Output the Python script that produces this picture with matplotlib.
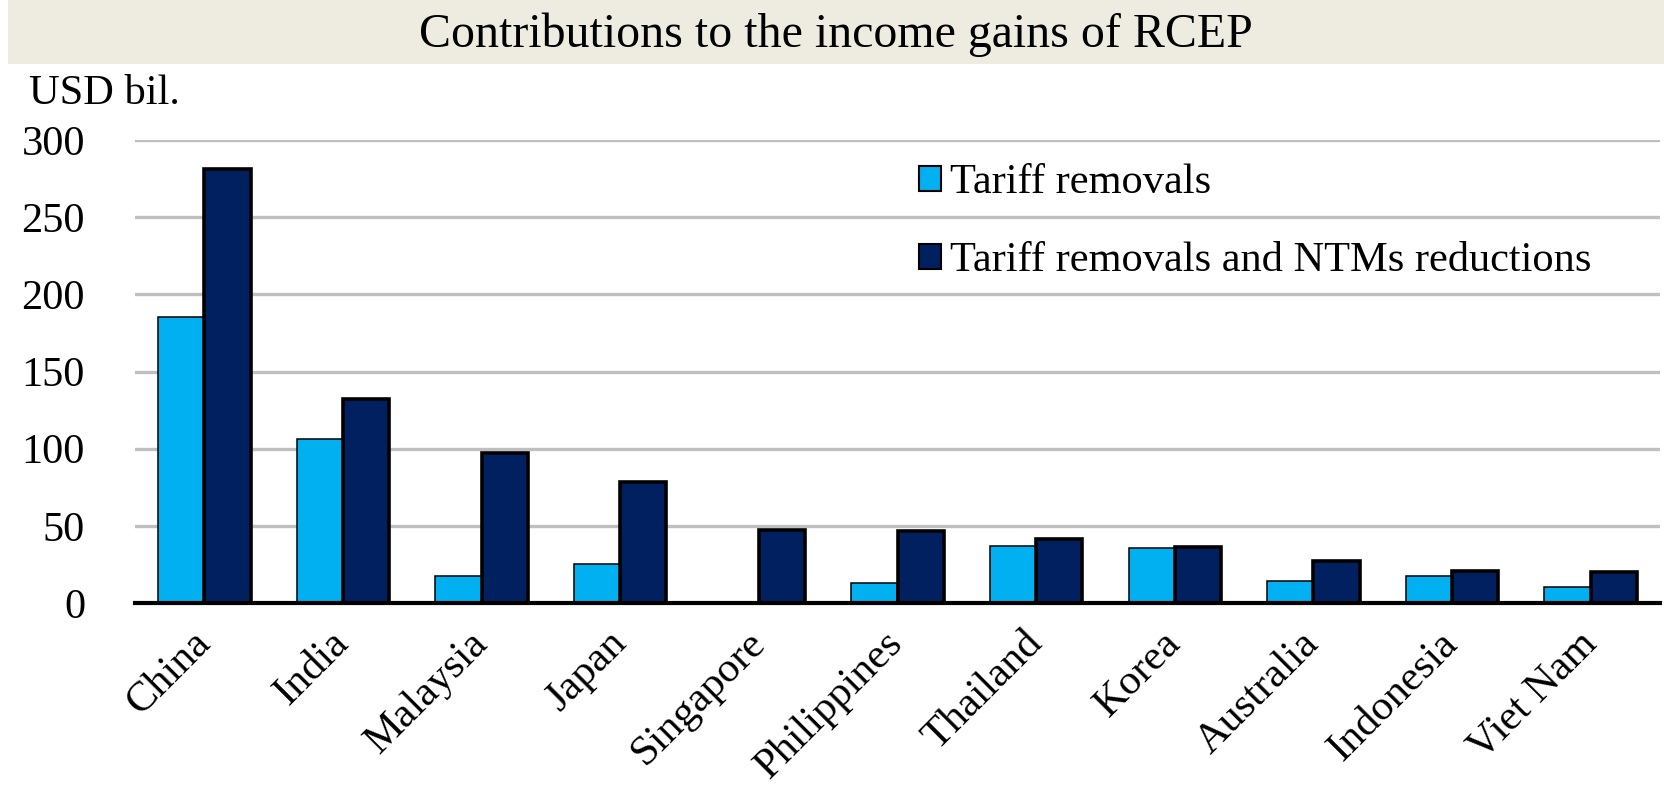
import matplotlib

matplotlib.use("Agg")

import matplotlib.pyplot as plt
import numpy as np
from matplotlib.patches import Rectangle

countries = [
    "China", "India", "Malaysia", "Japan", "Singapore", "Philippines",
    "Thailand", "Korea", "Australia", "Indonesia", "Viet Nam",
]
tariff_only = [185, 106, 17.5, 25.5, 0, 12.8, 37, 35.5, 14.3, 17.7, 10.6]
tariff_and_ntm = [281, 132, 97.5, 78.5, 47.3, 46.7, 41.5, 36.3, 27.2, 20.8, 19.9]
series_names = ["Tariff removals", "Tariff removals and NTMs reductions"]
y_ticks = [0, 50, 100, 150, 200, 250, 300]

LIGHT = "#00B0F0"
DARK = "#002060"

plt.rcParams["font.family"] = ["Liberation Serif", "DejaVu Serif"]

fig = plt.figure(figsize=(16.65, 7.89), dpi=100)

# beige header band behind the title
fig.patches.append(
    Rectangle((8 / 1665, 1 - 64 / 789), 1 - 8 / 1665, 64 / 789,
              transform=fig.transFigure, facecolor="#EEECE1", edgecolor="none", zorder=0)
)
fig.text(0.502, 1 - 35 / 789, "Contributions to the income gains of RCEP",
         ha="center", va="center", fontsize=34.5)
fig.text(29 / 1665, 1 - 94 / 789, "USD bil.", ha="left", va="center", fontsize=30.5)

ax = fig.add_axes([135 / 1665, 1 - 603 / 789, 1525 / 1665, 463 / 789])

x = np.arange(len(countries))
w = 1 / 3
ax.bar(x - w / 2, tariff_only, width=w, color=LIGHT, edgecolor="black",
       linewidth=1.1, label=series_names[0], zorder=2)
ax.bar(x + w / 2, tariff_and_ntm, width=w, color=DARK, edgecolor="black",
       linewidth=2.6, label=series_names[1], zorder=3)

ax.set_xlim(-0.5, len(countries) - 0.5)
ax.set_ylim(0, 300)
ax.set_yticks(y_ticks)
ax.yaxis.grid(True, color="#BFBFBF", linewidth=2.4)
ax.set_axisbelow(True)

for side in ("top", "right", "left"):
    ax.spines[side].set_visible(False)
ax.spines["bottom"].set_linewidth(3)
ax.spines["bottom"].set_zorder(4)

ax.tick_params(axis="y", length=0, pad=36, labelsize=30.5)
ax.tick_params(axis="x", length=0, pad=25, labelsize=30.5)
ax.set_xticks(x)
ax.set_xticklabels(countries, rotation=45, ha="right", va="center", rotation_mode="anchor")

leg = ax.legend(
    loc="upper left", bbox_to_anchor=(0.503, 0.985), frameon=False, fontsize=30.5,
    handlelength=0.52, handleheight=0.52, handletextpad=0.2, labelspacing=0.93,
    borderaxespad=0,
)
for h in leg.legend_handles:
    h.set_linewidth(1.5)

fig.savefig("out.png", dpi=100)
